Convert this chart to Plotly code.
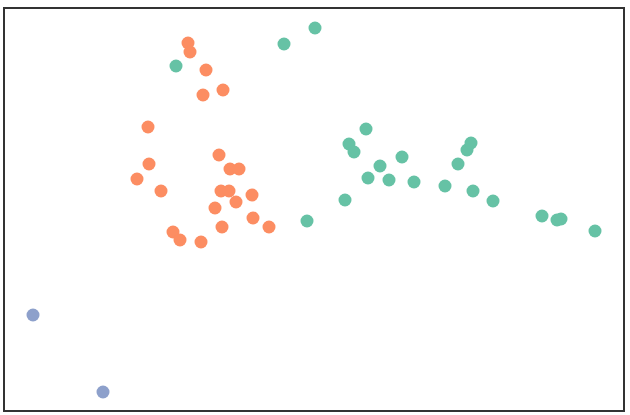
import plotly.graph_objects as go

# values (arbitrary units, no axes shown)
orange_x = [183, 185, 201, 198, 218, 143, 214, 144, 132, 156, 225, 234, 216, 224,
            247, 231, 210, 248, 217, 264, 168, 175, 196]
orange_y = [367, 358, 340, 315, 320, 283, 255, 246, 231, 219, 241, 241, 219, 219,
            215, 208, 202, 192, 183, 183, 178, 170, 168]

green_x = [171, 279, 310, 361, 344, 349, 397, 375, 363, 384, 409, 440, 468, 488,
           340, 453, 462, 466, 302, 537, 552, 556, 590]
green_y = [344, 366, 382, 281, 266, 258, 253, 244, 232, 230, 228, 224, 219, 209,
           210, 246, 260, 267, 189, 194, 190, 191, 179]

blue_x = [28, 98]
blue_y = [95, 18]

fig = go.Figure()
for xs, ys, col in [(green_x, green_y, "#66c2a5"),
                    (orange_x, orange_y, "#fc8d62"),
                    (blue_x, blue_y, "#8da0cb")]:
    fig.add_trace(go.Scatter(x=xs, y=ys, mode="markers",
                             marker=dict(size=13, color=col),
                             showlegend=False))

axis = dict(showgrid=False, zeroline=False, showticklabels=False, ticks="",
            showline=True, mirror=True, linecolor="#333333", linewidth=2)
fig.update_xaxes(range=[0, 618], **axis)
fig.update_yaxes(range=[0, 401], **axis)

fig.update_layout(width=630, height=415,
                  margin=dict(l=5, r=7, t=9, b=5),
                  plot_bgcolor="white", paper_bgcolor="white")

# drop the default page margin so the figure sits at the window's corner
fig.write_html("out.html",
               config={"displayModeBar": False},
               post_script="document.body.style.margin='0';"
                           "document.body.style.overflow='hidden';")
